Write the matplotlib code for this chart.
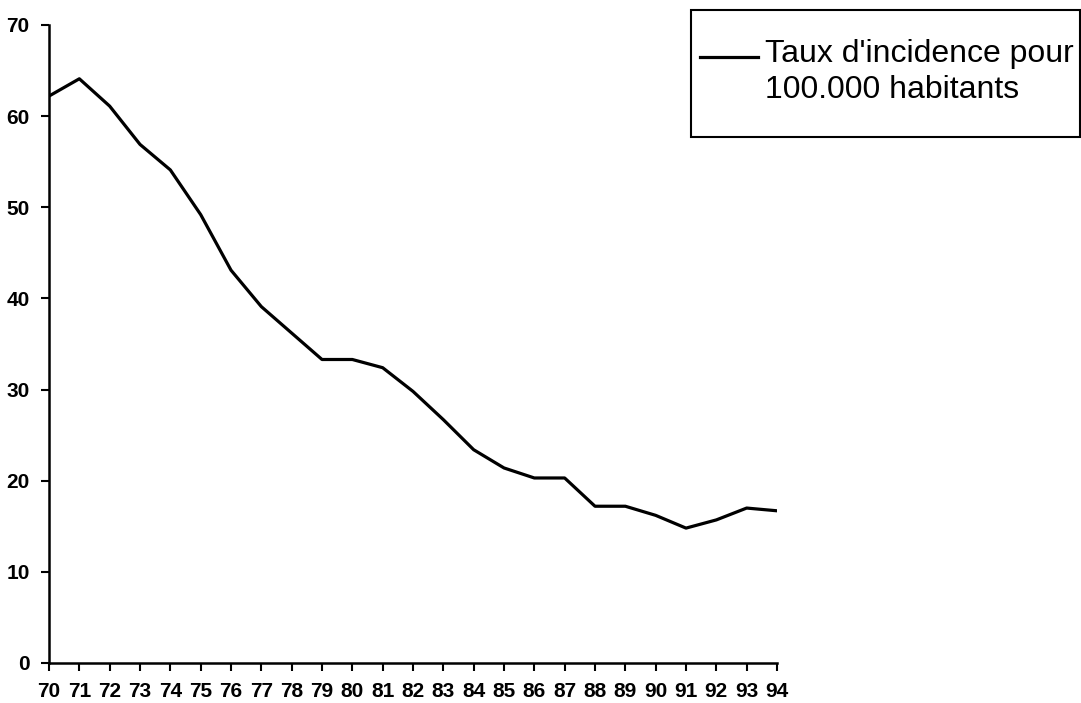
import matplotlib
matplotlib.use("Agg")
import matplotlib.pyplot as plt
from matplotlib.patches import Rectangle

years = list(range(70, 95))
year_labels = [str(y) for y in years]
taux = [62.2, 64.1, 61.1, 56.9, 54.1, 49.2, 43.1, 39.1, 36.2, 33.3, 33.3, 32.4,
        29.8, 26.7, 23.4, 21.4, 20.3, 20.3, 17.2, 17.2, 16.2, 14.8, 15.7, 17.0, 16.7]
yticks = [0, 10, 20, 30, 40, 50, 60, 70]
series_label = "Taux d'incidence pour\n100.000 habitants"

plt.rcParams['font.family'] = ['Liberation Sans', 'DejaVu Sans']

fig = plt.figure(figsize=(10.81, 7.03), dpi=100)
ax = fig.add_axes([49/1081, 1-663/703, (777-49)/1081, (663-25)/703])

ax.plot(years, taux, color='black', linewidth=2.3, label=series_label)

ax.set_xlim(70, 94)
ax.set_ylim(0, 70)
ax.set_xticks(years)
ax.set_xticklabels(year_labels)
ax.set_yticks(yticks)
ax.set_yticklabels([str(v) for v in yticks])

for lbl in ax.get_xticklabels() + ax.get_yticklabels():
    lbl.set_fontweight('bold')
    lbl.set_fontsize(15)

ax.spines['top'].set_visible(False)
ax.spines['right'].set_visible(False)
ax.spines['left'].set_linewidth(1.8)
ax.spines['bottom'].set_linewidth(1.8)
ax.tick_params(axis='both', direction='out', length=6, width=1.5, colors='black')
ax.tick_params(axis='x', pad=8)
ax.tick_params(axis='y', pad=8)

# legend box
fig.patches.append(Rectangle((691/1081, 1-137/703), 389/1081, 127/703,
                             transform=fig.transFigure, fill=False,
                             edgecolor='black', linewidth=1.5))

leg = fig.legend(loc='upper left',
                 bbox_to_anchor=(700/1081, 1-39/703),
                 fontsize=23, frameon=False, borderpad=0,
                 handlelength=1.8, handletextpad=0.25, borderaxespad=0)
for t in leg.get_texts():
    t.set_linespacing(1.27)
h = leg.legend_handles[0]
yd = h.get_ydata()
h.set_ydata([v + 11 for v in yd])

fig.savefig("out.png", dpi=100)
